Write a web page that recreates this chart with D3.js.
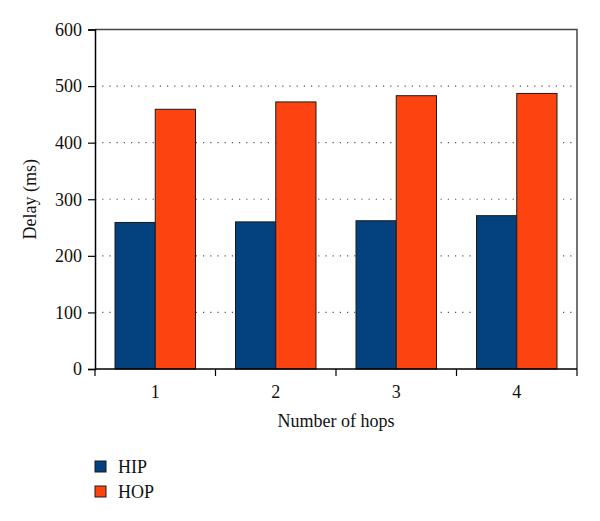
<!DOCTYPE html>
<html>
<head>
<meta charset="utf-8">
<script src="https://cdn.jsdelivr.net/npm/d3@7"></script>
<style>
  body { margin: 0; background: #fff; }
  svg { display: block; font-family: "Liberation Serif", "DejaVu Serif", serif; }
</style>
</head>
<body>
<svg width="600" height="521"></svg>
<script>
// data
var hops = ["1", "2", "3", "4"];
var series = ["HIP", "HOP"];
var hipDelay = [259, 260, 262, 271];
var hopDelay = [459, 472, 483, 487];
var yTicks = [0, 100, 200, 300, 400, 500, 600];
var colors = { HIP: "#03427f", HOP: "#fd4410" };

var rows = hops.map((h, i) => ({ hop: h, HIP: hipDelay[i], HOP: hopDelay[i] }));

var svg = d3.select("svg"),
	plotL = 95, plotR = 577, plotT = 29.5, plotB = 369,
	fs = 18;

var x0 = d3.scaleBand().domain(hops).range([plotL, plotR]);
var x1 = d3.scaleBand().domain(series).range([20, x0.bandwidth() - 20]);
var y = d3.scaleLinear().domain([0, 600]).range([plotB, plotT]);

// dotted grid
svg.append("g")
	.selectAll("line")
	.data(yTicks.filter(t => t > 0 && t < 600))
	.join("line")
	.attr("x1", plotL).attr("x2", plotR)
	.attr("y1", d => y(d)).attr("y2", d => y(d))
	.attr("stroke", "#555")
	.attr("stroke-width", 1.2)
	.attr("stroke-dasharray", "1.2,6");

// bars
var groups = svg.append("g")
	.selectAll("g")
	.data(rows)
	.join("g")
	.attr("transform", d => "translate(" + x0(d.hop) + ",0)");

groups.selectAll("rect")
	.data(d => series.map(s => ({ key: s, value: d[s] })))
	.join("rect")
	.attr("x", d => x1(d.key))
	.attr("width", x1.bandwidth())
	.attr("y", d => y(d.value))
	.attr("height", d => y(0) - y(d.value))
	.attr("fill", d => colors[d.key])
	.attr("stroke", "#1a1a1a")
	.attr("stroke-width", 1);

// frame top and right
svg.append("path")
	.attr("d", "M" + plotL + "," + plotT + "H" + plotR + "V" + plotB)
	.attr("fill", "none")
	.attr("stroke", "#444")
	.attr("stroke-width", 1.5);

// y axis
var yAxis = svg.append("g")
	.attr("transform", "translate(" + plotL + ",0)")
	.call(d3.axisLeft(y).tickValues(yTicks).tickSize(7).tickPadding(6));
yAxis.select(".domain").attr("stroke", "#000").attr("stroke-width", 1.5);
yAxis.selectAll(".tick line").attr("stroke-width", 1.2);
yAxis.selectAll("text").attr("font-size", fs).attr("fill", "#111")
	.attr("font-family", "Liberation Serif, serif");

// x axis: ticks between the groups
var bounds = hops.map(h => x0(h)).concat([plotR]);
var xAxis = svg.append("g").attr("transform", "translate(0," + plotB + ")");
xAxis.append("line")
	.attr("x1", plotL).attr("x2", plotR)
	.attr("stroke", "#000").attr("stroke-width", 1.5);
xAxis.selectAll(".tk")
	.data(bounds)
	.join("line")
	.attr("class", "tk")
	.attr("x1", d => d).attr("x2", d => d)
	.attr("y1", 0).attr("y2", 7)
	.attr("stroke", "#000").attr("stroke-width", 1.2);
xAxis.selectAll("text")
	.data(hops)
	.join("text")
	.attr("x", d => x0(d) + x0.bandwidth() / 2)
	.attr("y", 29)
	.attr("text-anchor", "middle")
	.attr("font-size", fs)
	.attr("fill", "#111")
	.text(d => d);

// axis titles
svg.append("text")
	.attr("x", (plotL + plotR) / 2).attr("y", 427)
	.attr("text-anchor", "middle")
	.attr("font-size", fs)
	.attr("fill", "#111")
	.text("Number of hops");

svg.append("text")
	.attr("transform", "translate(36," + (plotT + plotB) / 2 + ") rotate(-90)")
	.attr("text-anchor", "middle")
	.attr("font-size", fs)
	.attr("fill", "#111")
	.text("Delay (ms)");

// legend
var legend = svg.append("g")
	.selectAll("g")
	.data(series)
	.join("g")
	.attr("transform", (d, i) => "translate(95," + (461 + i * 25) + ")");
legend.append("rect")
	.attr("width", 11).attr("height", 11)
	.attr("fill", d => colors[d])
	.attr("stroke", "#1a1a1a").attr("stroke-width", 1);
legend.append("text")
	.attr("x", 23).attr("y", 11.5)
	.attr("font-size", fs)
	.attr("fill", "#111")
	.text(d => d);
</script>
</body>
</html>
